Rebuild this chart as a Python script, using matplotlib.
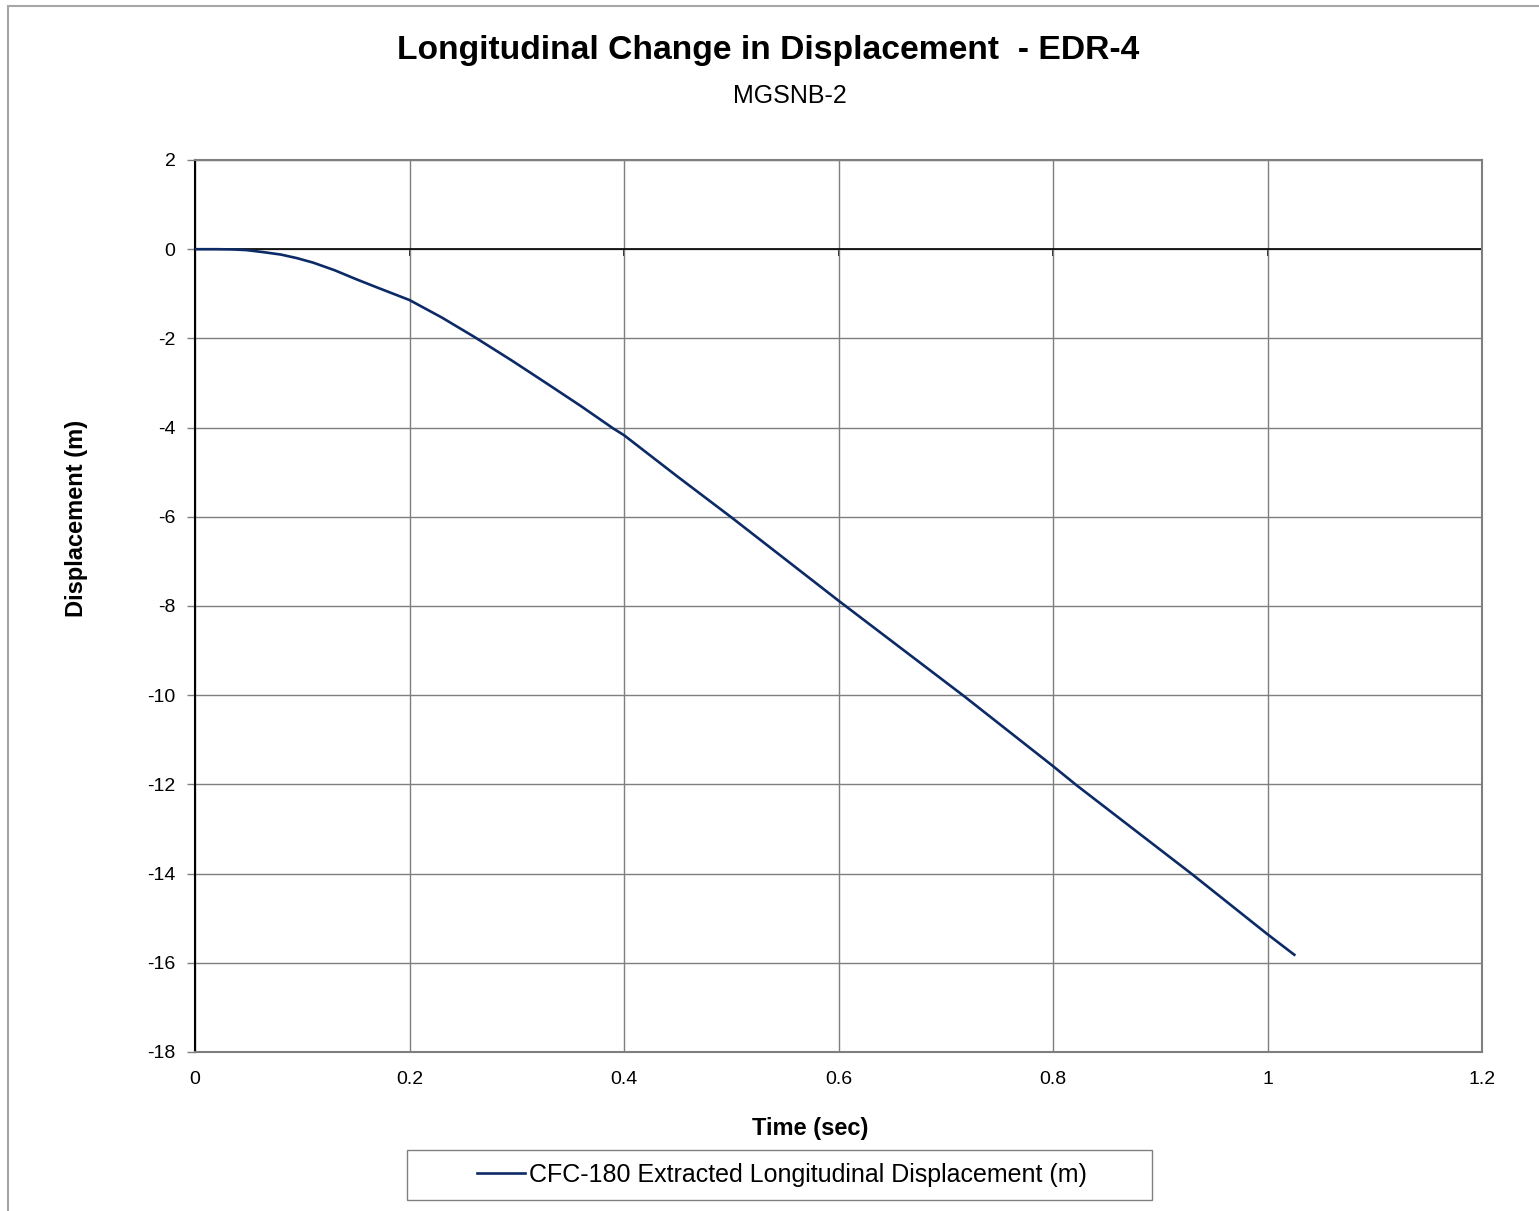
import matplotlib
matplotlib.use("Agg")
import matplotlib.pyplot as plt
from matplotlib.patches import Rectangle

# ---- data ----
time_s = [0.0, 0.02, 0.035, 0.048, 0.065, 0.08, 0.095, 0.11, 0.13, 0.15, 0.17,
          0.2, 0.23, 0.26, 0.295, 0.328, 0.36, 0.39, 0.4, 0.45, 0.5, 0.6,
          0.717, 0.8, 0.822, 0.93, 1.0, 1.025]
disp_m = [0.0, 0.0, -0.005, -0.02, -0.07, -0.12, -0.20, -0.30, -0.47, -0.67, -0.86,
          -1.14, -1.53, -1.96, -2.49, -3.01, -3.52, -4.02, -4.17, -5.10, -6.01, -7.88,
          -10.02, -11.59, -12.02, -14.02, -15.36, -15.82]
series_label = "CFC-180 Extracted Longitudinal Displacement (m)"
title = "Longitudinal Change in Displacement  - EDR-4"
subtitle = "MGSNB-2"
x_label = "Time (sec)"
y_label = "Displacement (m)"
x_ticks = [0, 0.2, 0.4, 0.6, 0.8, 1.0, 1.2]
x_ticklabels = ["0", "0.2", "0.4", "0.6", "0.8", "1", "1.2"]
y_ticks = list(range(-18, 3, 2))

plt.rcParams['font.family'] = ['Liberation Sans', 'DejaVu Sans']

W, H = 1539, 1211
fig = plt.figure(figsize=(W / 100, H / 100), dpi=100)
fig.patch.set_facecolor('white')

# outer chart-area border (only left and top are inside the picture)
fig.patches.append(Rectangle((8 / W, -0.2), 1.5, 1.2 - 6 / H, transform=fig.transFigure,
                             fill=False, edgecolor='#a6a6a6', linewidth=1.5, clip_on=False))

ax = fig.add_axes([195 / W, 1 - 1052 / H, (1482 - 195) / W, (1052 - 160) / H])

line_color = '#0c2a66'
ax.plot(time_s, disp_m, color=line_color, linewidth=1.9, label=series_label, zorder=3)

ax.set_xlim(0, 1.2)
ax.set_ylim(-18, 2)
ax.set_xticks(x_ticks)
ax.set_xticklabels(x_ticklabels)
ax.set_yticks(y_ticks)
ax.set_yticklabels([str(v) for v in y_ticks])

grid_color = '#7f7f7f'
ax.grid(True, color=grid_color, linewidth=1.0, zorder=1)
ax.axhline(0, color='black', linewidth=1.2, zorder=2)

for s in ['top', 'right', 'bottom']:
    ax.spines[s].set_color(grid_color)
    ax.spines[s].set_linewidth(1.5)
ax.spines['left'].set_color('black')
ax.spines['left'].set_linewidth(1.5)

ax.tick_params(axis='y', direction='out', length=6, width=1, color=grid_color,
               labelsize=14, pad=8)
ax.tick_params(axis='x', direction='out', length=0, labelsize=14, pad=14)

# small tick marks where the x-axis crosses at y = 0
sec = ax.secondary_xaxis(0.9)
sec.set_alignment('bottom')
sec.set_xticks(x_ticks)
sec.tick_params(axis='x', direction='out', length=5, width=1.2, color='black',
                labelbottom=False, labeltop=False)
for sp in sec.spines.values():
    sp.set_visible(False)

fig.text(810 / W, 1 - 1128 / H, x_label, ha='center', va='center', fontsize=17, fontweight='bold')
fig.text(76 / W, 1 - 518 / H, y_label, ha='center', va='center', rotation=90,
         fontsize=17, fontweight='bold')

fig.text(768 / W, 1 - 50 / H, title, ha='center', va='center',
         fontsize=24.2, fontweight='bold')
fig.text(790 / W, 1 - 96 / H, subtitle, ha='center', va='center', fontsize=18)

# legend with an Excel-style box
fig.patches.append(Rectangle((407 / W, 1 - 1200 / H), (1152 - 407) / W, (1200 - 1150) / H,
                             transform=fig.transFigure, fill=False,
                             edgecolor='#808080', linewidth=1.0, zorder=5))
leg = ax.legend(loc='center', bbox_to_anchor=(782 / W, 1 - 1175 / H),
                bbox_transform=fig.transFigure, frameon=False,
                fontsize=18, handlelength=1.9, handletextpad=0.15, borderpad=0.2)

fig.savefig('out.png', dpi=100)
